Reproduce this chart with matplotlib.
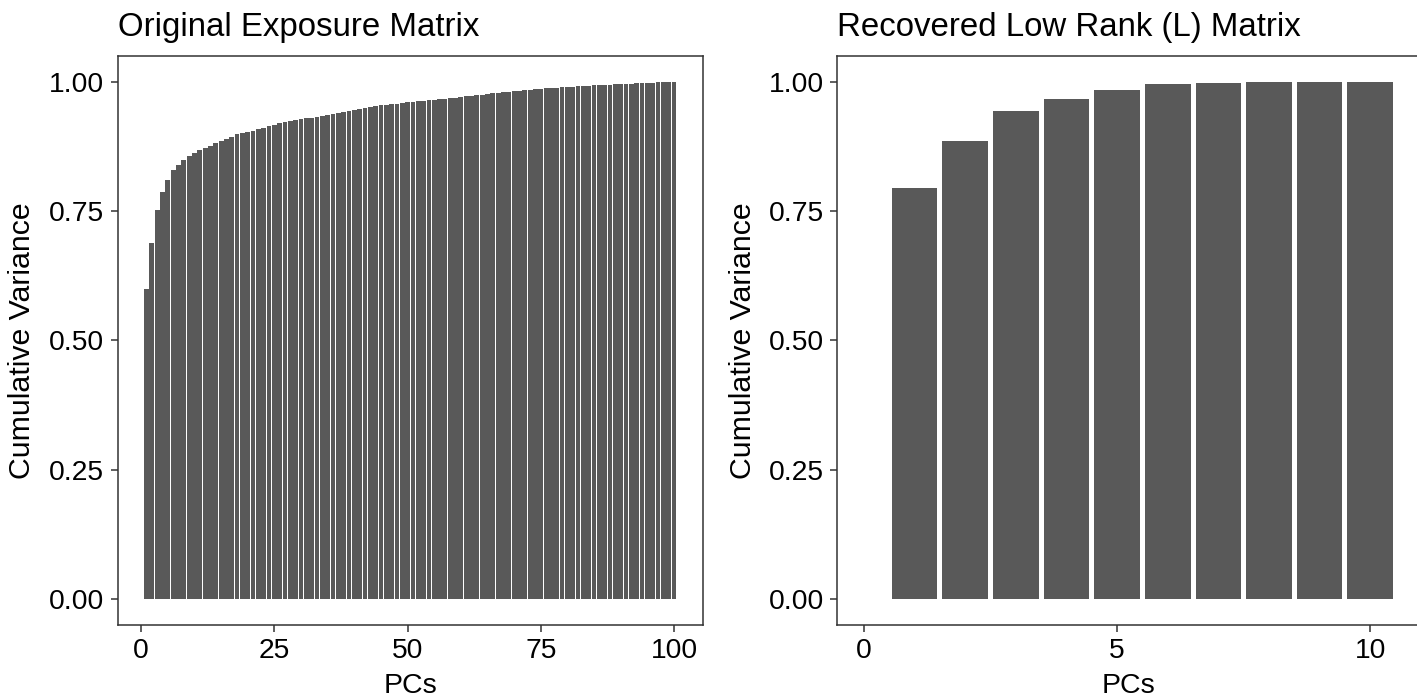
import matplotlib
matplotlib.use("Agg")
import matplotlib.pyplot as plt
import numpy as np

# Cumulative proportion of variance explained by each principal component
original_cumvar = [
    0.600, 0.689, 0.752, 0.786, 0.809, 0.830, 0.839, 0.849, 0.856, 0.862,
    0.868, 0.872, 0.876, 0.882, 0.886, 0.889, 0.893, 0.898, 0.900, 0.902,
    0.905, 0.909, 0.911, 0.914, 0.917, 0.919, 0.921, 0.923, 0.925, 0.927,
    0.929, 0.930, 0.932, 0.934, 0.936, 0.938, 0.940, 0.942, 0.944, 0.946,
    0.947, 0.949, 0.950, 0.952, 0.954, 0.955, 0.956, 0.957, 0.959, 0.960,
    0.961, 0.962, 0.963, 0.964, 0.965, 0.966, 0.967, 0.968, 0.969, 0.970,
    0.972, 0.973, 0.974, 0.975, 0.976, 0.977, 0.978, 0.979, 0.980, 0.981,
    0.982, 0.983, 0.984, 0.985, 0.986, 0.987, 0.988, 0.988, 0.989, 0.990,
    0.990, 0.991, 0.992, 0.992, 0.993, 0.993, 0.994, 0.994, 0.995, 0.995,
    0.996, 0.996, 0.997, 0.997, 0.998, 0.998, 0.999, 0.999, 1.000, 1.000,
]
lowrank_cumvar = [0.795, 0.886, 0.943, 0.967, 0.983, 0.995, 0.997, 0.999, 0.999, 1.000]

left_title = "Original Exposure Matrix"
right_title = "Recovered Low Rank (L) Matrix"
x_label = "PCs"
y_label = "Cumulative Variance"
left_xticks = [0, 25, 50, 75, 100]
right_xticks = [0, 5, 10]
y_ticks = [0.00, 0.25, 0.50, 0.75, 1.00]

BAR_COLOR = "#595959"
AXIS_COLOR = "#333333"
plt.rcParams["font.family"] = ["Liberation Sans", "DejaVu Sans"]

W, H = 1417, 700
fig = plt.figure(figsize=(W / 100, H / 100), dpi=100)


def add_axes_px(left, top, width, height):
    return fig.add_axes([left / W, 1 - (top + height) / H, width / W, height / H])


ax1 = add_axes_px(117.5, 55.7, 585.5, 569.3)
ax2 = add_axes_px(837.5, 55.7, 582.0, 569.3)


def style(ax, values, xticks, xlim, title):
    pcs = np.arange(1, len(values) + 1)
    ax.bar(pcs, values, width=0.9, color=BAR_COLOR, linewidth=0)
    ax.set_xlim(*xlim)
    ax.set_ylim(-0.05, 1.05)
    ax.set_xticks(xticks)
    ax.set_xticklabels([str(t) for t in xticks])
    ax.set_yticks(y_ticks)
    ax.set_yticklabels([f"{t:.2f}" for t in y_ticks])
    ax.tick_params(axis="both", labelsize=20.3, labelcolor="black",
                   color=AXIS_COLOR, width=1.1, length=5, pad=4.5)
    for sp in ax.spines.values():
        sp.set_color(AXIS_COLOR)
        sp.set_linewidth(1.1)
    ax.set_title(title, loc="left", fontsize=23.8, pad=14, color="black")
    ax.set_xlabel(x_label, fontsize=20.5, color="black", va="center")
    ax.set_ylabel(y_label, fontsize=21.8, color="black", va="center")
    ax.xaxis.set_label_coords(0.5, -0.107)
    ax.yaxis.set_label_coords(-95.0 / 585.5, 0.5)
    ax.set_facecolor("white")


left_pad = (len(original_cumvar) + 0.45 - 0.55) * 0.05
style(ax1, original_cumvar, left_xticks,
      (0.55 - left_pad, len(original_cumvar) + 0.45 + left_pad), left_title)
right_pad = (len(lowrank_cumvar) + 0.45) * 0.05
style(ax2, lowrank_cumvar, right_xticks,
      (0 - right_pad, len(lowrank_cumvar) + 0.45 + right_pad), right_title)
# the right-hand panel runs past the edge of the figure
ax2.spines["right"].set_visible(False)

fig.savefig("out.png", dpi=100, facecolor="white")
